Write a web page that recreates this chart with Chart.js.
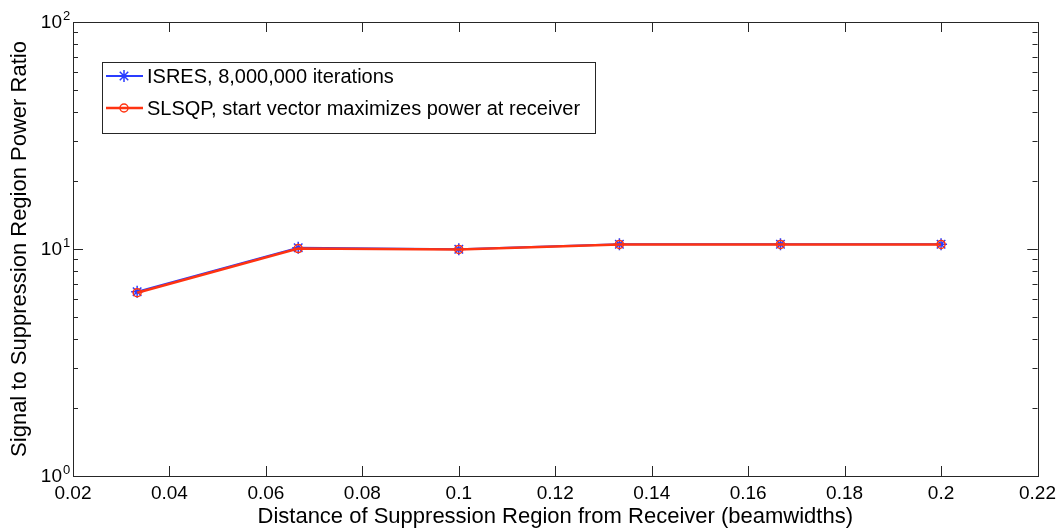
<!DOCTYPE html>
<html>
<head>
<meta charset="utf-8">
<script src="https://cdn.jsdelivr.net/npm/chart.js@4.4.1/dist/chart.umd.min.js"></script>
<style>
    html, body { margin: 0; padding: 0; background: #ffffff; }
</style>
</head>
<body>
<canvas id="ratioChart" width="1062" height="531"></canvas>
<script>
// values
var distances = [0.0333, 0.0667, 0.1, 0.1333, 0.1667, 0.2];
var isresRatio = [6.48, 10.12, 9.98, 10.5, 10.5, 10.5];
var slsqpRatio = [6.42, 10.04, 9.96, 10.48, 10.48, 10.48];
var xTicks = [0.02, 0.04, 0.06, 0.08, 0.1, 0.12, 0.14, 0.16, 0.18, 0.2, 0.22];
var yDecades = [1, 10, 100];
var seriesNames = ['ISRES, 8,000,000 iterations', 'SLSQP, start vector maximizes power at receiver'];

var FONT = '"Liberation Sans", Arial, Helvetica, sans-serif';

function toPoints(xs, ys) {
    return xs.map(function (x, i) { return { x: x, y: ys[i] }; });
}

// MATLAB-like box, inner ticks, 10^n labels and legend
var matlabAxes = {
    id: 'matlabAxes',
    afterDraw: function (chart) {
        var ctx = chart.ctx;
        var a = chart.chartArea;
        var xs = chart.scales.x;
        var ys = chart.scales.y;

        ctx.save();
        ctx.strokeStyle = '#262626';
        ctx.lineWidth = 1;

        // box
        ctx.strokeRect(Math.round(a.left) + 0.5, Math.round(a.top) + 0.5,
            Math.round(a.right - a.left), Math.round(a.bottom - a.top));

        ctx.beginPath();
        xTicks.forEach(function (v) {
            var px = Math.round(xs.getPixelForValue(v)) + 0.5;
            ctx.moveTo(px, a.bottom);
            ctx.lineTo(px, a.bottom - 10);
            ctx.moveTo(px, a.top);
            ctx.lineTo(px, a.top + 10);
        });
        for (var d = 1; d < 100; d *= 10) {
            for (var m = 1; m <= 10; m++) {
                var v = d * m;
                if (v > 100) break;
                var py = Math.round(ys.getPixelForValue(v)) + 0.5;
                var len = (m === 1 || m === 10) ? 10 : 5;
                ctx.moveTo(a.left, py);
                ctx.lineTo(a.left + len, py);
                ctx.moveTo(a.right, py);
                ctx.lineTo(a.right - len, py);
            }
        }
        ctx.stroke();

        // y tick labels 10^n
        ctx.fillStyle = '#000000';
        yDecades.forEach(function (v) {
            var py = ys.getPixelForValue(v);
            ctx.font = '19px ' + FONT;
            ctx.textAlign = 'right';
            ctx.textBaseline = 'middle';
            ctx.fillText('10', 62, py + 1);
            ctx.font = '13px ' + FONT;
            ctx.textAlign = 'left';
            ctx.fillText(String(Math.round(Math.log10(v))), 63, py - 6);
        });

        // legend
        var box = { left: 102, top: 62, right: 595, bottom: 133 };
        ctx.fillStyle = '#ffffff';
        ctx.fillRect(box.left, box.top, box.right - box.left, box.bottom - box.top);
        ctx.strokeStyle = '#262626';
        ctx.strokeRect(box.left + 0.5, box.top + 0.5, box.right - box.left, box.bottom - box.top);

        var rowY = [76, 108];
        [0, 1].forEach(function (i) {
            var ds = chart.data.datasets[i];
            var y = rowY[i];
            ctx.strokeStyle = ds.borderColor;
            ctx.lineWidth = ds.borderWidth;
            ctx.beginPath();
            ctx.moveTo(106, y);
            ctx.lineTo(143, y);
            ctx.stroke();
            ctx.fillStyle = 'rgba(0,0,0,0)';
            ctx.strokeStyle = ds.pointBorderColor;
            ctx.lineWidth = ds.pointBorderWidth;
            Chart.helpers.drawPoint(ctx, {
                pointStyle: ds.pointStyle,
                radius: ds.pointRadius,
                borderWidth: ds.pointBorderWidth
            }, 124, y);
            ctx.fillStyle = '#000000';
            ctx.font = '20px ' + FONT;
            ctx.textAlign = 'left';
            ctx.textBaseline = 'middle';
            ctx.fillText(seriesNames[i], 147, y + 1);
        });
        ctx.restore();
    }
};

var ctx = document.getElementById('ratioChart').getContext('2d');

var ratioChart = new Chart(ctx, {
    type: 'line',
    data: {
        datasets: [{
            label: seriesNames[0],
            data: toPoints(distances, isresRatio),
            borderColor: '#2a3cff',
            backgroundColor: 'rgba(0,0,0,0)',
            borderWidth: 2,
            pointStyle: 'star',
            pointRadius: 6,
            pointBorderWidth: 1.5,
            pointBorderColor: '#2a3cff',
            pointBackgroundColor: 'rgba(0,0,0,0)',
            tension: 0,
            order: 2
        }, {
            label: seriesNames[1],
            data: toPoints(distances, slsqpRatio),
            borderColor: '#ff3311',
            backgroundColor: 'rgba(0,0,0,0)',
            borderWidth: 2.5,
            pointStyle: 'circle',
            pointRadius: 4,
            pointBorderWidth: 1.5,
            pointBorderColor: '#ff3311',
            pointBackgroundColor: 'rgba(0,0,0,0)',
            tension: 0,
            order: 1
        }]
    },
    options: {
        responsive: false,
        animation: false,
        layout: {
            padding: { top: 22, right: 22, left: 0, bottom: 0 }
        },
        scales: {
            x: {
                type: 'linear',
                position: 'bottom',
                min: 0.02,
                max: 0.22,
                afterBuildTicks: function (scale) {
                    scale.ticks = xTicks.map(function (v) { return { value: v }; });
                },
                afterFit: function (scale) {
                    scale.height = 55;
                },
                grid: { display: false, drawTicks: false },
                border: { display: false },
                ticks: {
                    color: '#000000',
                    padding: 6,
                    maxRotation: 0,
                    autoSkip: false,
                    font: { family: FONT, size: 19 },
                    callback: function (value) {
                        return String(parseFloat(Number(value).toFixed(2)));
                    }
                },
                title: {
                    display: true,
                    text: 'Distance of Suppression Region from Receiver (beamwidths)',
                    color: '#000000',
                    font: { family: FONT, size: 22 },
                    padding: { top: 0, bottom: 1 }
                }
            },
            y: {
                type: 'logarithmic',
                min: 1,
                max: 100,
                afterFit: function (scale) {
                    scale.width = 73;
                },
                grid: { display: false, drawTicks: false },
                border: { display: false },
                ticks: { display: false },
                title: {
                    display: true,
                    text: 'Signal to Suppression Region Power Ratio',
                    color: '#000000',
                    font: { family: FONT, size: 22 },
                    padding: { top: 7, bottom: 0 }
                }
            }
        },
        plugins: {
            legend: { display: false },
            tooltip: { enabled: false }
        }
    },
    plugins: [matlabAxes]
});
</script>
</body>
</html>
